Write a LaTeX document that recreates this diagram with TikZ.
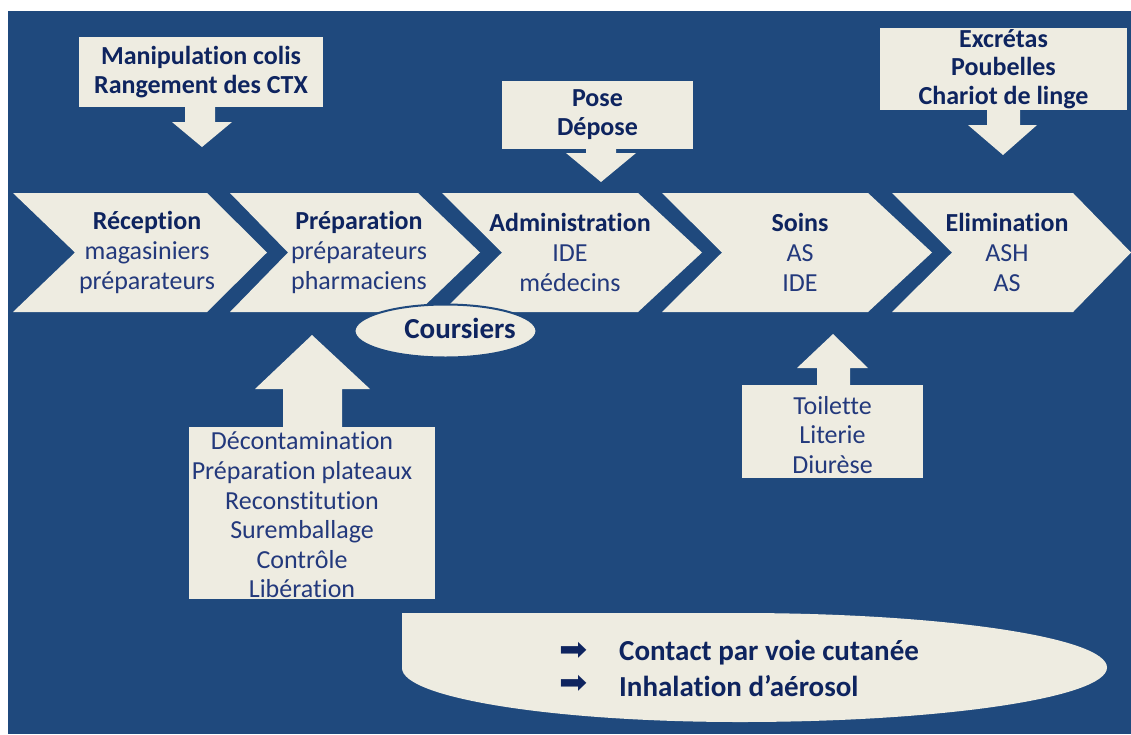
\documentclass[tikz,border=0pt]{standalone}
\usepackage{fontspec}
\setmainfont{Carlito}[RawFeature={-liga;-clig;-dlig;-calt}]
\newfontfamily\symfont{DejaVu Sans}
\usetikzlibrary{shapes.geometric}
\definecolor{bgblue}{HTML}{1F497D}
\definecolor{cream}{HTML}{EEECE1}
\definecolor{titlecol}{HTML}{0E245F}
\definecolor{bodycol}{HTML}{23397C}
\newcommand\ttl[1]{{\bfseries\color{titlecol}#1}}
\newcommand\mychev[4]{\fill[cream] (#1,193) -- (#3,193) -- (#4,252.5) -- (#3,312) -- (#1,312) -- (#2,252.5) -- cycle;}
\tikzset{
  chtext/.style={align=center, text=bodycol, inner sep=0pt, font=\fontsize{26}{30}\selectfont},
  boxnode/.style={fill=cream, inner sep=0pt, align=center, text=titlecol, font=\fontsize{26}{29}\selectfont\bfseries},
  listtext/.style={align=center, text=bodycol, inner sep=0pt, font=\fontsize{26}{29.6}\selectfont},
  bottomtext/.style={anchor=west, inner sep=0pt, text=titlecol, font=\fontsize{29}{33}\selectfont\bfseries},
  bullet/.style={inner sep=0pt, align=center, text=titlecol, font=\symfont\fontsize{27}{33}\selectfont}
}
\begin{document}
\begin{tikzpicture}[x=1pt,y=-1pt]
\useasboundingbox (0,0) rectangle (1131,734);
\fill[white] (0,0) rectangle (1131,734);
\fill[bgblue] (8,11) rectangle (1131,734);

% chevrons
\mychev{13}{75}{207}{267}
\mychev{230}{288}{418}{480}
\mychev{442}{502}{638}{702}
\mychev{662}{722}{868}{932}
\mychev{892}{952}{1073}{1131}

\node[chtext] (rec) at (147,252) {\ttl{Réception}\\magasiniers\\préparateurs};
\node[chtext] (prep) at (359,252) {\ttl{Préparation}\\préparateurs\\pharmaciens};
\node[chtext] (adm) at (570,252) {\ttl{Administration}\\IDE\\médecins};
\node[chtext] (soins) at (800,252) {\ttl{Soins}\\AS\\IDE};
\node[chtext] (elim) at (1007,252) {\ttl{Elimination}\\ASH\\AS};

% Coursiers ellipse
\node[ellipse, draw=bgblue, line width=2pt, fill=cream, inner sep=0pt,
      minimum width=182pt, minimum height=53pt] (cours) at (445.5,331) {};
\node[inner sep=0pt, text=titlecol, font=\fontsize{29}{33}\selectfont\bfseries] (courstxt) at (460,328) {Coursiers};

% top boxes with down arrows
\node[boxnode, minimum width=244pt, minimum height=70pt] (manip) at (201,72)
  {Manipulation colis\\Rangement des CTX};
\fill[cream] (185,106) -- (215,106) -- (215,122) -- (232,122) -- (202,147) -- (172,122) -- (185,122) -- cycle;

\node[boxnode, minimum width=191pt, minimum height=68pt] (pose) at (597.5,115)
  {Pose\\Dépose};
\fill[cream] (586,147) -- (616,147) -- (616,153) -- (636,153) -- (601,182) -- (566,153) -- (586,153) -- cycle;

\node[boxnode, minimum width=247pt, minimum height=82pt, font=\fontsize{26}{28.5}\selectfont\bfseries] (excr) at (1003.5,69)
  {Excrétas\\Poubelles\\Chariot de linge};
\fill[cream] (987,109) -- (1020,109) -- (1020,125) -- (1037,125) -- (1003,155) -- (968,125) -- (987,125) -- cycle;

% bottom boxes with up arrows
\node[fill=cream, inner sep=0pt, minimum width=246pt, minimum height=172pt] (decont) at (312,513) {};
\node[listtext] (decontxt) at (302,515)
  {Décontamination\\Préparation plateaux\\Reconstitution\\Suremballage\\Contrôle\\Libération};
\fill[cream] (283,428) -- (342,428) -- (342,389) -- (370,389) -- (312,335) -- (255,389) -- (283,389) -- cycle;

\node[fill=cream, inner sep=0pt, minimum width=181pt, minimum height=93pt] (toil) at (832.5,431.5) {};
\node[listtext, font=\fontsize{26}{29.5}\selectfont] (toiltxt) at (832.5,435)
  {Toilette\\Literie\\Diurèse};
\fill[cream] (817,386) -- (850,386) -- (850,368) -- (868,368) -- (833,334) -- (797,368) -- (817,368) -- cycle;

% bottom shape
\fill[cream] (402,613) -- (740,613)
  arc[start angle=-90, end angle=90, x radius=367, y radius=54.5]
  arc[start angle=90, end angle=180, x radius=338, y radius=54] -- cycle;
\node[bullet] (bul) at (574,668) {\scalebox{1.25}[1.2]{➡}\\\scalebox{1.25}[1.2]{➡}};
\node[bottomtext] (t1) at (619,653) {Contact par voie cutanée};
\node[bottomtext] (t2) at (619,686) {Inhalation d’aérosol};
\end{tikzpicture}
\end{document}
